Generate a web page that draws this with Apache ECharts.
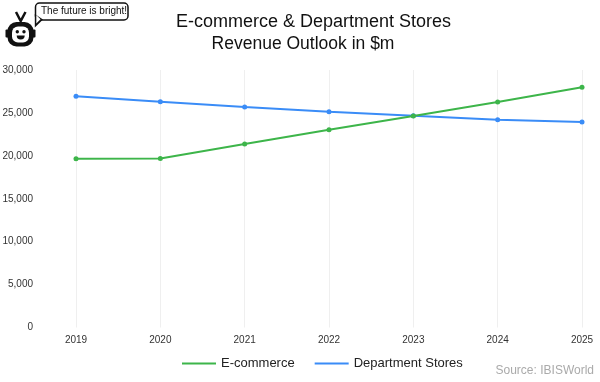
<!DOCTYPE html>
<html><head><meta charset="utf-8">
<script src="https://cdn.jsdelivr.net/npm/echarts@6/dist/echarts.min.js"></script>
<style>html,body{margin:0;padding:0;background:#fff}#c{width:600px;height:382px}</style>
</head><body><div id="c"></div>
<script>
const years = ['2019','2020','2021','2022','2023','2024','2025'];
const ecommerce = [19670, 19700, 21380, 23050, 24650, 26270, 27980];
const deptStores = [26930, 26310, 25690, 25140, 24660, 24210, 23940];
const seriesNames = ['E-commerce', 'Department Stores'];
const titleLines = ['E-commerce & Department Stores', 'Revenue Outlook in $m'];
const colors = ['#3db54a', '#3a8cf7'];
const FONT = '"Liberation Sans", Arial, sans-serif';

const chart = echarts.init(document.getElementById('c'), null, {renderer:'canvas'});
chart.setOption({
  animation: false,
  legend: {
    top: 357, left: 182, padding: 0,
    itemWidth: 34, itemHeight: 2, itemGap: 20,
    icon: 'rect',
    textStyle: {fontFamily: FONT, fontSize: 13, color: '#222'},
    data: seriesNames
  },
  grid: {left: 76, right: 18, top: 70, bottom: 54.5, containLabel: false, outerBoundsMode: 'none'},
  xAxis: {
    type: 'category', data: years, boundaryGap: false,
    axisLine: {show: false}, axisTick: {show: false},
    axisLabel: {fontFamily: FONT, fontSize: 10, color: '#333', margin: 8},
    splitLine: {show: true, lineStyle: {color: '#efefef', width: 1}}
  },
  yAxis: {
    type: 'value', min: 0, max: 30000, interval: 5000,
    axisLine: {show: false}, axisTick: {show: false},
    splitLine: {show: false},
    axisLabel: {fontFamily: FONT, fontSize: 10, color: '#333', margin: 43,
      formatter: v => v.toLocaleString('en-US')}
  },
  series: [
    {name: seriesNames[0], type: 'line', data: ecommerce, color: colors[0],
     symbol: 'circle', symbolSize: 5, lineStyle: {width: 2}, z: 3},
    {name: seriesNames[1], type: 'line', data: deptStores, color: colors[1],
     symbol: 'circle', symbolSize: 5, lineStyle: {width: 2}, z: 2}
  ],
  graphic: [
    {type: 'text', x: 313.5, y: 22.5, style: {text: titleLines[0], font: '18px ' + FONT, fill: '#111', textAlign: 'center', textVerticalAlign: 'middle'}},
    {type: 'text', x: 303, y: 44, style: {text: titleLines[1], font: '17.5px ' + FONT, fill: '#111', textAlign: 'center', textVerticalAlign: 'middle'}},
    {type: 'text', x: 594, y: 371, style: {text: 'Source: IBISWorld', font: '12px ' + FONT, fill: '#aaa', textAlign: 'right', textVerticalAlign: 'middle'}},
    // speech bubble
    {type: 'rect', shape: {x: 35.5, y: 3, width: 92.5, height: 17, r: 4}, style: {fill: '#fff', stroke: '#111', lineWidth: 1.5}, z: 10},
    {type: 'polygon', shape: {points: [[34.8,14],[34.8,27.5],[43,19.5]]}, style: {fill: '#111'}, z: 10},
    {type: 'polygon', shape: {points: [[36.3,15],[36.3,23.5],[40.5,19.3]]}, style: {fill: '#fff'}, z: 11},
    {type: 'text', left: 41, top: 6, style: {text: 'The future is bright!', font: '10px ' + FONT, fill: '#111'}, z: 12},
    // robot antennae
    {type: 'polyline', shape: {points: [[16,12],[20.7,21],[25.5,12]]}, style: {stroke: '#111', lineWidth: 2.5, fill: null}},
    // robot head
    {type: 'rect', shape: {x: 7.5, y: 22, width: 26, height: 24.5, r: 9}, style: {fill: '#111'}},
    {type: 'rect', shape: {x: 12, y: 26.5, width: 17, height: 16, r: 6}, style: {fill: '#fff'}},
    {type: 'circle', shape: {cx: 17.3, cy: 31.7, r: 1.7}, style: {fill: '#111'}},
    {type: 'circle', shape: {cx: 24, cy: 31.7, r: 1.7}, style: {fill: '#111'}},
    {type: 'sector', shape: {cx: 20.7, cy: 35.5, r: 4, r0: 0, startAngle: 0, endAngle: Math.PI, clockwise: true}, style: {fill: '#111'}},
    {type: 'rect', shape: {x: 5.5, y: 29.5, width: 3, height: 8, r: 1}, style: {fill: '#111'}},
    {type: 'rect', shape: {x: 32.5, y: 29.5, width: 3, height: 8, r: 1}, style: {fill: '#111'}}
  ]
});
</script></body></html>
